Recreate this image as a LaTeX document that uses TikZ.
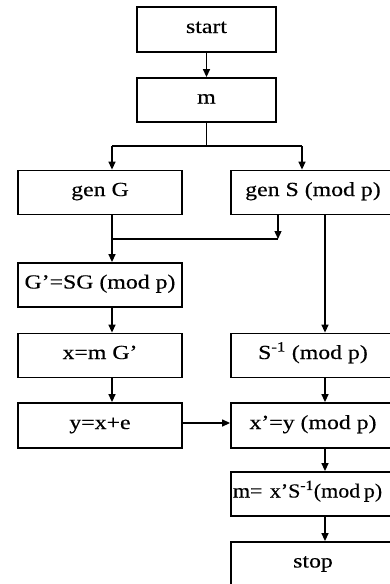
\documentclass[tikz,border=0pt]{standalone}
\usepackage{fontspec}
\setmainfont{Liberation Serif}[FakeBold=0.35]
\usetikzlibrary{arrows.meta}
\newcommand{\wt}[1]{\scalebox{1.19}[1]{#1}}
\tikzset{
  box/.style={draw=black, line width=1.8pt, rectangle, minimum width=164pt, minimum height=44pt,
    inner sep=0pt, font=\fontsize{20}{22}\selectfont, text height=13pt, text depth=6pt, fill=white},
  conn/.style={line width=1.3pt},
  arr/.style={conn, -{Triangle[length=8pt,width=7pt]}}
}
\begin{document}
\begin{tikzpicture}[x=1pt,y=-1pt]
\useasboundingbox (0,0) rectangle (390,584);
\clip (0,0) rectangle (390,584);
\fill[white] (0,0) rectangle (390,584);
% nodes
\node[box, minimum width=139pt, minimum height=45pt] (start) at (206.5,29.5) {\wt{start}};
\node[box, minimum width=139pt] (m) at (206.5,100) {\wt{m}};
\node[box] (genG) at (100,192.5) {\wt{gen G}};
\node[box] (genS) at (313,192.5) {\wt{gen S (mod p)}};
\node[box] (Gp) at (100,285) {\wt{G’=SG (mod p)}};
\node[box] (x) at (100,355.5) {\wt{x=m G’}};
\node[box] (Sinv) at (313,355.5) {\wt{S\textsuperscript{-1} (mod p)}};
\node[box, minimum height=45pt] (y) at (100,425.5) {\wt{y=x+e}};
\node[box, minimum height=45pt] (xp) at (313,425.5) {\wt{x’=y (mod p)}};
\node[box, text width=164pt, align=left] (mm) at (313,494) {\hspace{2pt}\scalebox{1.1}[1]{m= x’S\textsuperscript{-1}(mod\,p)}};
\node[box] (stop) at (313,564) {\wt{stop}};
% helper coordinates
\coordinate (sL) at (112,146);
\coordinate (sR) at (302,146);
\coordinate (jL) at (112,239);
\coordinate (jR) at (278,239);
\coordinate (rc) at (325,0);
% connectors
\draw[arr] (start) -- (m);
\draw[conn] (m.south) -- (m.south |- sL);
\draw[conn] (sL) -- (sR);
\draw[arr] (sL) -- (sL |- genG.north);
\draw[arr] (sR) -- (sR |- genS.north);
\draw[conn] (genG.south -| jL) -- (jL);
\draw[arr] (genS.south -| jR) -- (jR);
\draw[conn] (jL) -- (jR);
\draw[arr] (jL) -- (jL |- Gp.north);
\draw[arr] (Gp.south -| jL) -- (x.north -| jL);
\draw[arr] (x.south -| jL) -- (y.north -| jL);
\draw[arr] (genS.south -| rc) -- (Sinv.north -| rc);
\draw[arr] (Sinv.south -| rc) -- (xp.north -| rc);
\draw[arr] (xp.south -| rc) -- (mm.north -| rc);
\draw[arr] (mm.south -| rc) -- (stop.north -| rc);
\draw[arr] ([yshift=2.5pt]y.east) -- ([yshift=2.5pt]xp.west);
\end{tikzpicture}
\end{document}
